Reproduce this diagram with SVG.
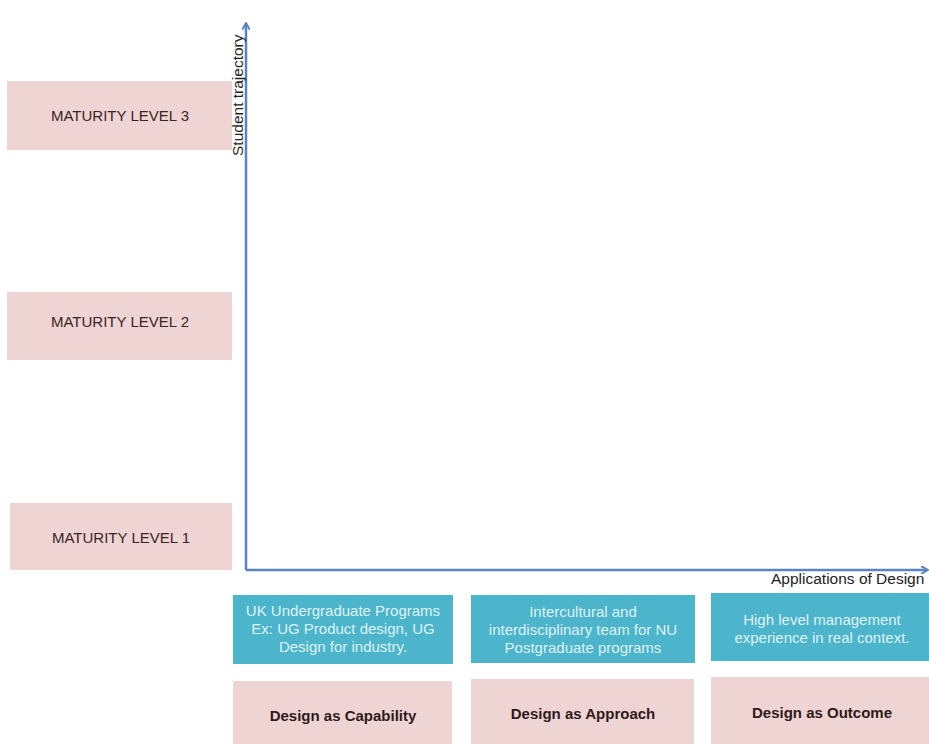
<svg xmlns="http://www.w3.org/2000/svg" width="929" height="744" viewBox="0 0 929 744">
<style>
.pink{fill:#efd4d4}
.blue{fill:#4cb4cb}
.lvl{font-family:"Liberation Sans",Arial,sans-serif;font-size:15px;fill:#3a2424;text-anchor:middle}
.cap{font-family:"Liberation Sans",Arial,sans-serif;font-size:15px;font-weight:bold;fill:#2e1a1a;text-anchor:middle}
.bt{font-family:"Liberation Sans",Arial,sans-serif;font-size:15px;fill:#dff3f6;text-anchor:middle}
.ax{font-family:"Liberation Sans",Arial,sans-serif;font-size:15.5px;fill:#222}
.axis{stroke:#5b84bf;stroke-width:2.5;fill:none}
</style>
<defs>
<marker id="ah" markerWidth="8" markerHeight="8" refX="6" refY="4" orient="auto" markerUnits="userSpaceOnUse">
<path d="M0,0 L7,4 L0,8" fill="none" stroke="#5b84bf" stroke-width="2"/>
</marker>
</defs>
<rect width="929" height="744" fill="#ffffff"/>
<g id="level3"><rect class="pink" x="7" y="81" width="225" height="69"/><text class="lvl" x="120" y="121">MATURITY LEVEL 3</text></g>
<g id="level2"><rect class="pink" x="7" y="292" width="225" height="68"/><text class="lvl" x="120" y="327">MATURITY LEVEL 2</text></g>
<g id="level1"><rect class="pink" x="10" y="503" width="222" height="67"/><text class="lvl" x="121" y="543">MATURITY LEVEL 1</text></g>
<g id="connectors">
<line class="axis" x1="246" y1="570" x2="246" y2="24" marker-end="url(#ah)"/>
<line class="axis" x1="246" y1="570" x2="927" y2="570" marker-end="url(#ah)"/>
</g>
<text class="ax" transform="translate(243,156) rotate(-90)">Student trajectory</text>
<text class="ax" x="771" y="584">Applications of Design</text>
<g id="ug"><rect class="blue" x="233" y="595" width="220" height="69"/>
<text class="bt" x="343" y="616">UK Undergraduate Programs</text>
<text class="bt" x="343" y="634">Ex: UG Product design, UG</text>
<text class="bt" x="343" y="652">Design for industry.</text></g>
<g id="pg"><rect class="blue" x="471" y="595" width="224" height="68"/>
<text class="bt" x="583" y="617">Intercultural and</text>
<text class="bt" x="583" y="635">interdisciplinary team for NU</text>
<text class="bt" x="583" y="653">Postgraduate programs</text></g>
<g id="hl"><rect class="blue" x="711" y="593" width="218" height="68"/>
<text class="bt" x="822" y="625">High level management</text>
<text class="bt" x="822" y="643">experience in real context.</text></g>
<g id="capability"><rect class="pink" x="233" y="681" width="219" height="63"/><text class="cap" x="343" y="721">Design as Capability</text></g>
<g id="approach"><rect class="pink" x="471" y="679" width="223" height="65"/><text class="cap" x="583" y="719">Design as Approach</text></g>
<g id="outcome"><rect class="pink" x="711" y="677" width="218" height="67"/><text class="cap" x="822" y="718">Design as Outcome</text></g>
</svg>
